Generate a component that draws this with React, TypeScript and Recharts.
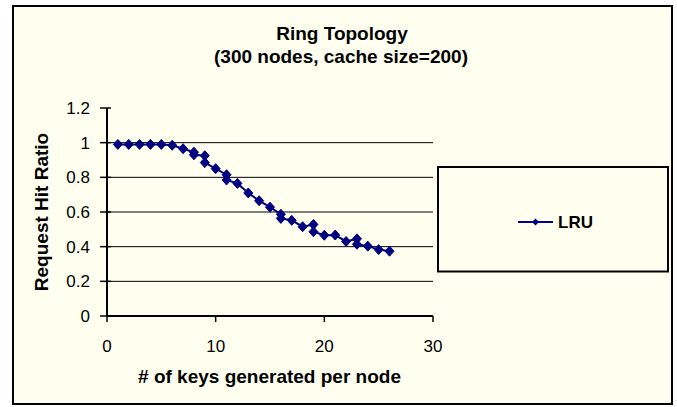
import React from "react";
import { LineChart, Line, XAxis, YAxis, CartesianGrid } from "recharts";

const keysPerNode = [1, 2, 3, 4, 5, 6, 7, 8, 8, 9, 9, 10, 11, 11, 12, 13, 14, 15, 16, 16, 17, 18, 19, 19, 20, 21, 22, 23, 23, 24, 25, 26];
const lruHitRatio = [0.99, 0.99, 0.99, 0.99, 0.99, 0.985, 0.965, 0.945, 0.93, 0.925, 0.885, 0.85, 0.815, 0.785, 0.765, 0.71, 0.665, 0.628, 0.587, 0.563, 0.552, 0.515, 0.528, 0.486, 0.466, 0.467, 0.43, 0.445, 0.414, 0.403, 0.383, 0.374];
const xTicks = [0, 10, 20, 30];
const yTicks = [0, 0.2, 0.4, 0.6, 0.8, 1, 1.2];
const gridValues = [0.2, 0.4, 0.6, 0.8, 1];
const seriesName = "LRU";
const titleLines = ["Ring Topology", "(300 nodes, cache size=200)"];
const xTitle = "# of keys generated per node";
const yTitle = "Request Hit Ratio";

const data = keysPerNode.map((x, i) => ({ x, y: lruHitRatio[i] }));

const FONT = "'Liberation Sans', Arial, Helvetica, sans-serif";
const NAVY = "#000080";
const CREAM = "#FFFFF0";

const Diamond = (props: any) => {
  const { cx, cy, index } = props;
  if (cx == null || cy == null) return <g key={index} />;
  return (
    <polygon
      key={index}
      points={`${cx},${cy - 5} ${cx + 4.5},${cy} ${cx},${cy + 5} ${cx - 4.5},${cy}`}
      fill={NAVY}
      stroke={NAVY}
      strokeWidth={1}
    />
  );
};

const YTick = (props: any) => {
  const { x, y, payload } = props;
  return (
    <g>
      <line x1={x + 10} x2={x + 21} y1={y} y2={y} stroke="#000" strokeWidth={1.5} />
      <text x={x} y={y} dy="0.355em" textAnchor="end" fontFamily={FONT} fontSize={17} fill="#000">
        {String(payload.value)}
      </text>
    </g>
  );
};

export default function App() {
  return (
    <div style={{ position: "absolute", left: 0, top: 0, width: 677, height: 407, background: "#fff" }}>
      <div
        style={{
          position: "absolute",
          left: 12,
          top: 5,
          width: 661,
          height: 400,
          boxSizing: "border-box",
          border: "2px solid #000",
          background: CREAM,
        }}
      />
      <div style={{ position: "absolute", left: 0, top: 0 }}>
        <LineChart width={677} height={407} data={data} margin={{ top: 108, right: 244, bottom: 0, left: 0 }}>
          <CartesianGrid horizontal={true} vertical={false} horizontalValues={gridValues} stroke="#000" strokeWidth={1} />
          <XAxis
            dataKey="x"
            type="number"
            domain={[0, 30]}
            ticks={xTicks}
            height={91}
            axisLine={{ stroke: "#000", strokeWidth: 2 }}
            tickLine={{ stroke: "#000", strokeWidth: 1.5 }}
            tickSize={6}
            tickMargin={18}
            tick={{ fontFamily: FONT, fontSize: 17, fill: "#000" }}
          />
          <YAxis
            type="number"
            domain={[0, 1.2]}
            ticks={yTicks}
            width={107}
            axisLine={{ stroke: "#000", strokeWidth: 2 }}
            tickLine={false}
            tickSize={7}
            tickMargin={10}
            tick={<YTick />}
            interval={0}
          />
          <Line
            type="linear"
            dataKey="y"
            name={seriesName}
            stroke={NAVY}
            strokeWidth={2}
            dot={<Diamond />}
            activeDot={false}
            isAnimationActive={false}
          />
        </LineChart>
      </div>
      <svg
        width={677}
        height={407}
        style={{ position: "absolute", left: 0, top: 0, pointerEvents: "none" }}
      >
        <text x={342} y={40} textAnchor="middle" fontFamily={FONT} fontWeight="bold" fontSize={19} fill="#000">
          {titleLines[0]}
        </text>
        <text x={341} y={63} textAnchor="middle" fontFamily={FONT} fontWeight="bold" fontSize={19} fill="#000">
          {titleLines[1]}
        </text>
        <text x={269.5} y={383} textAnchor="middle" fontFamily={FONT} fontWeight="bold" fontSize={19} fill="#000">
          {xTitle}
        </text>
        <text
          x={48}
          y={212}
          transform="rotate(-90, 48, 212)"
          textAnchor="middle"
          fontFamily={FONT}
          fontWeight="bold"
          fontSize={19}
          fill="#000"
        >
          {yTitle}
        </text>
        <rect x={438} y={167} width={230} height={104.5} fill={CREAM} stroke="#000" strokeWidth={2} />
        <line x1={518} x2={553} y1={222} y2={222} stroke={NAVY} strokeWidth={2} />
        <polygon points="535.5,218.5 539,222 535.5,225.5 532,222" fill={NAVY} />
        <text x={558} y={228} fontFamily={FONT} fontWeight="bold" fontSize={17} fill="#000">
          {seriesName}
        </text>
      </svg>
    </div>
  );
}
